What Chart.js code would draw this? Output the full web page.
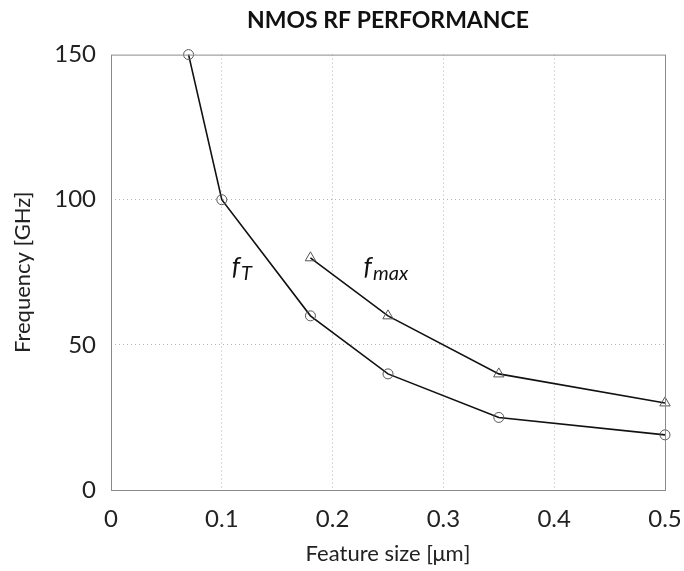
<!DOCTYPE html>
<html>
<head>
<meta charset="utf-8">
<script src="https://cdn.jsdelivr.net/npm/chart.js@4/dist/chart.umd.min.js"></script>
<style>
  html, body { margin: 0; padding: 0; background: #fff; }
  #wrap { width: 684px; height: 571px; }
</style>
</head>
<body>
<div id="wrap"><canvas id="rfChart" width="684" height="571"></canvas></div>
<script>
// dados
const featureSizeFt = [0.07, 0.1, 0.18, 0.25, 0.35, 0.5];
const ftValues = [150, 100, 60, 40, 25, 19];
const featureSizeFmax = [0.18, 0.25, 0.35, 0.5];
const fmaxValues = [80, 60, 40, 30];
const xTicks = [0, 0.1, 0.2, 0.3, 0.4, 0.5];
const yTicks = [0, 50, 100, 150];
// rótulos das curvas: [texto, subscrito, x, y]
const curveLabels = [
    ['f', 'T', 0.109, 74],
    ['f', 'max', 0.228, 74]
];

const FONT = 'Lato, "Open Sans", sans-serif';

function toPoints(xs, ys) {
    return xs.map((x, i) => ({ x: x, y: ys[i] }));
}

// moldura sólida e rótulos f_T / f_max
const framePlugin = {
    id: 'frame',
    afterDraw(chart) {
        const { ctx, chartArea: a, scales } = chart;
        ctx.save();
        ctx.strokeStyle = '#8a8a8a';
        ctx.lineWidth = 1;
        ctx.strokeRect(a.left + 0.5, a.top + 0.5, a.right - a.left, a.bottom - a.top);
        ctx.fillStyle = '#111';
        curveLabels.forEach(([t, sub, x, y]) => {
            const px = scales.x.getPixelForValue(x);
            const py = scales.y.getPixelForValue(y);
            ctx.font = 'italic 26px ' + FONT;
            ctx.textBaseline = 'alphabetic';
            ctx.fillText(t, px, py);
            const w = ctx.measureText(t).width;
            ctx.font = 'italic 20px ' + FONT;
            ctx.fillText(sub, px + w + 1, py + 5);
        });
        ctx.restore();
    }
};

const ctx = document.getElementById('rfChart').getContext('2d');
const myChart = new Chart(ctx, {
    type: 'scatter',
    data: {
        datasets: [
            {
                label: 'fT',
                data: toPoints(featureSizeFt, ftValues),
                showLine: true,
                borderColor: '#111',
                borderWidth: 1.6,
                pointStyle: 'circle',
                pointRadius: 5,
                pointBorderColor: '#555',
                pointBorderWidth: 1,
                pointBackgroundColor: 'rgba(0,0,0,0)',
                clip: false
            },
            {
                label: 'fmax',
                data: toPoints(featureSizeFmax, fmaxValues),
                showLine: true,
                borderColor: '#111',
                borderWidth: 1.6,
                pointStyle: 'triangle',
                pointRadius: 6,
                pointBorderColor: '#555',
                pointBorderWidth: 1,
                pointBackgroundColor: 'rgba(0,0,0,0)',
                clip: false
            }
        ]
    },
    options: {
        responsive: false,
        animation: false,
        layout: { padding: { top: 4, right: 19, left: 4, bottom: 4 } },
        scales: {
            x: {
                type: 'linear',
                min: 0,
                max: 0.5,
                afterBuildTicks: s => { s.ticks = xTicks.map(v => ({ value: v })); },
                afterFit: s => { s.height = 77; s.paddingRight = 0; s.paddingLeft = 0; },
                grid: {
                    drawTicks: false,
                    color: c => (c.tick && (c.tick.value === 0 || c.tick.value === 0.5)) ? 'rgba(0,0,0,0)' : '#b5b5b5',
                    lineWidth: 1
                },
                border: { display: false, dash: [1, 3] },
                ticks: {
                    color: '#222',
                    font: { family: FONT, size: 24 },
                    padding: 15,
                    maxRotation: 0,
                    callback: v => String(v)
                },
                title: {
                    display: true,
                    text: 'Feature size [μm]',
                    color: '#222',
                    font: { family: FONT, size: 22 },
                    padding: { top: 6, bottom: 0 }
                }
            },
            y: {
                type: 'linear',
                min: 0,
                max: 150,
                afterBuildTicks: s => { s.ticks = yTicks.map(v => ({ value: v })); },
                afterFit: s => { s.width = 107; s.paddingTop = 0; s.paddingBottom = 0; },
                grid: {
                    drawTicks: false,
                    color: c => (c.tick && (c.tick.value === 0 || c.tick.value === 150)) ? 'rgba(0,0,0,0)' : '#b5b5b5',
                    lineWidth: 1
                },
                border: { display: false, dash: [1, 3] },
                ticks: {
                    color: '#222',
                    font: { family: FONT, size: 24 },
                    padding: 15
                },
                title: {
                    display: true,
                    text: 'Frequency [GHz]',
                    color: '#222',
                    font: { family: FONT, size: 22 },
                    padding: { top: 6, bottom: 4 }
                }
            }
        },
        plugins: {
            legend: { display: false },
            tooltip: { enabled: false },
            title: {
                display: true,
                fullSize: false,
                text: 'NMOS RF PERFORMANCE',
                color: '#111',
                font: { family: FONT, size: 23, weight: 'bold' },
                padding: { top: 3, bottom: 20 }
            }
        }
    },
    plugins: [framePlugin]
});
</script>
</body>
</html>
